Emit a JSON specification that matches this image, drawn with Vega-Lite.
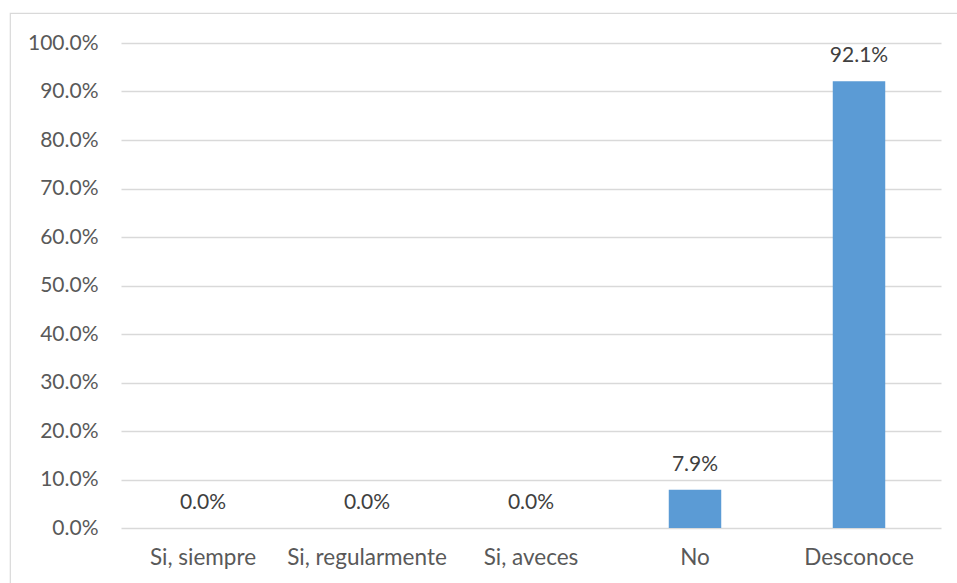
{
  "$schema": "https://vega.github.io/schema/vega-lite/v6.json",
  "width": 960,
  "height": 590,
  "autosize": "none",
  "padding": {"left": 10, "top": 13, "right": -13, "bottom": -20},
  "background": "#ffffff",
  "config": {
    "view": {"stroke": "#d9d9d9", "strokeWidth": 1.2},
    "font": "Lato",
    "axis": {
      "labelFont": "Lato",
      "labelColor": "#595959",
      "ticks": false,
      "domain": false,
      "title": null
    }
  },
  "data": {
    "values": [
      {"respuesta": "Si, siempre", "porcentaje": 0.0},
      {"respuesta": "Si, regularmente", "porcentaje": 0.0},
      {"respuesta": "Si, aveces", "porcentaje": 0.0},
      {"respuesta": "No", "porcentaje": 0.079},
      {"respuesta": "Desconoce", "porcentaje": 0.921}
    ]
  },
  "encoding": {
    "x": {
      "field": "respuesta",
      "type": "nominal",
      "sort": null,
      "scale": {"range": [111, 931], "paddingInner": 0.68, "paddingOuter": 0.34},
      "axis": {
        "labelAngle": 0,
        "labelFontSize": 22.5,
        "labelPadding": 18,
        "offset": -75,
        "grid": false
      }
    },
    "y": {
      "field": "porcentaje",
      "type": "quantitative",
      "scale": {"domain": [0, 1], "nice": false, "range": [515, 30]},
      "axis": {
        "format": ".1%",
        "values": [0, 0.1, 0.2, 0.3, 0.4, 0.5, 0.6, 0.7, 0.8, 0.9, 1.0],
        "labelFontSize": 21,
        "labelPadding": 23,
        "offset": -111,
        "grid": true,
        "gridColor": "#d9d9d9",
        "gridWidth": 1.3
      }
    }
  },
  "layer": [
    {"mark": {"type": "bar", "color": "#5b9bd5"}},
    {
      "mark": {
        "type": "text",
        "baseline": "middle",
        "dy": -25,
        "fontSize": 21,
        "color": "#404040"
      },
      "encoding": {
        "text": {"field": "porcentaje", "type": "quantitative", "format": ".1%"}
      }
    }
  ]
}
